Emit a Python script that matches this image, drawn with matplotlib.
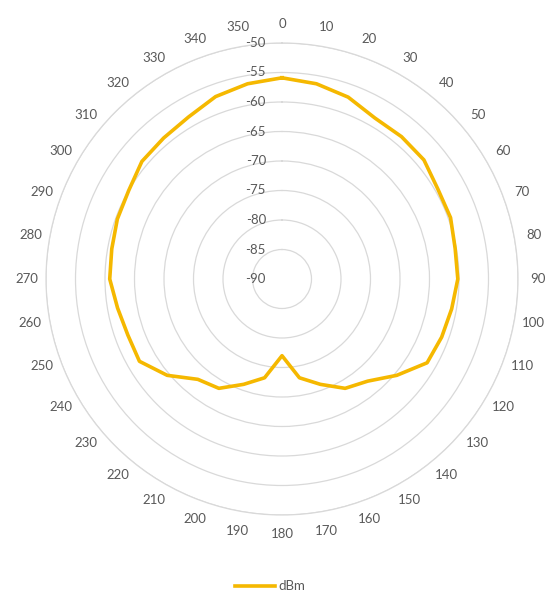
import numpy as np
import matplotlib.pyplot as plt
from matplotlib.transforms import offset_copy

plt.rcParams['font.family'] = ['Lato', 'DejaVu Sans']

ANGLES_DEG = list(range(0, 360, 10))
DBM = [
	-55.9, -56.4, -57.2, -58.5, -58.5, -58.6, -59.5, -59.6, -60.2, -60.2,
	-60.8, -61.2, -61.6, -64.6, -67.4, -68.6, -71.0, -73.0, -77.0, -73.0,
	-71.0, -68.6, -67.8, -64.6, -62.1, -62.2, -61.7, -60.8, -60.7, -60.3,
	-60.0, -59.0, -58.8, -58.3, -57.1, -56.4,
]
RING_VALUES = [-50, -55, -60, -65, -70, -75, -80, -85, -90]
SERIES_NAME = "dBm"

LINE_COLOR = "#F5B800"
GRID_COLOR = "#D9D9D9"
TEXT_COLOR = "#595959"

fig = plt.figure(figsize=(5.52, 5.97), dpi=100)
cx, cy = 282 / 552, 1 - 279 / 597
rw, rh = 236 / 552, 236 / 597
ax = fig.add_axes([cx - rw, cy - rh, 2 * rw, 2 * rh], projection="polar")

ax.set_theta_zero_location("N")
ax.set_theta_direction(-1)
ax.set_ylim(-90, -50)

theta = np.deg2rad(ANGLES_DEG + [ANGLES_DEG[0]])
values = DBM + [DBM[0]]
line, = ax.plot(theta, values, color=LINE_COLOR, linewidth=2.6, label=SERIES_NAME,
	solid_joinstyle="round", zorder=3)

# rings only, no spokes
ax.set_yticks(RING_VALUES[:-1])
ax.set_yticklabels([])
ax.tick_params(axis="y", length=0)
ax.yaxis.grid(True, color=GRID_COLOR, linewidth=0.9)
ax.xaxis.grid(False)
ax.spines["polar"].set_color(GRID_COLOR)
ax.spines["polar"].set_linewidth(0.9)

ax.set_xticks(np.deg2rad(ANGLES_DEG))
ax.set_xticklabels([str(a) for a in ANGLES_DEG], color=TEXT_COLOR, fontsize=9.5)
ax.tick_params(axis="x", pad=7, length=0)

shift = offset_copy(ax.transData, fig=fig, x=-16, y=0, units="dots")
for v in RING_VALUES:
	ax.text(0, v, str(v), transform=shift, ha="right", va="center",
		color=TEXT_COLOR, fontsize=9.5)

fig.legend(handles=[line], loc="lower center", bbox_to_anchor=(0.49, -0.012),
	frameon=False, fontsize=9.5, labelcolor=TEXT_COLOR, handlelength=3.0,
	handletextpad=0.3)

fig.savefig("out.png", dpi=100)
